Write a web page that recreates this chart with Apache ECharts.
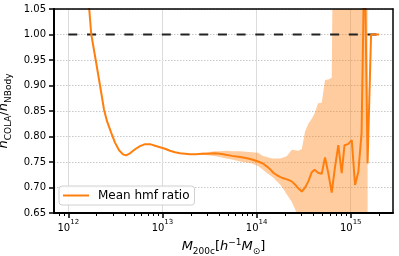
<!DOCTYPE html>
<html><head><meta charset="utf-8">
<script src="https://cdn.jsdelivr.net/npm/echarts@6/dist/echarts.min.js"></script>
<style>html,body{margin:0;padding:0;background:#fff}#c{width:399px;height:256px}</style>
</head><body><div id="c"></div>
<script>
// log10 of halo mass M200c [h^-1 Msun]
const logMass = [12.188,12.220,12.244,12.291,12.337,12.379,12.411,12.454,12.496,12.539,12.581,12.613,12.655,12.709,12.762,12.815,12.868,12.921,12.974,13.027,13.080,13.134,13.187,13.240,13.293,13.357,13.420,13.484,13.548,13.612,13.675,13.739,13.824,13.888,13.952,14.015,14.068,14.111,14.143,14.178,14.217,14.249,14.284,14.323,14.373,14.408,14.440,14.480,14.515,14.550,14.586,14.616,14.653,14.692,14.727,14.762,14.798,14.833,14.868,14.904,14.934,14.971,15.011,15.046,15.081,15.115,15.147,15.179,15.216,15.253,15.300];
const meanRatio = [1.09,1.055,1.000,0.950,0.900,0.853,0.830,0.808,0.788,0.773,0.765,0.763,0.767,0.775,0.781,0.785,0.785,0.782,0.779,0.776,0.772,0.769,0.767,0.766,0.765,0.765,0.766,0.766,0.767,0.766,0.764,0.762,0.760,0.758,0.755,0.751,0.747,0.741,0.736,0.729,0.724,0.721,0.718,0.716,0.712,0.706,0.699,0.692,0.700,0.712,0.730,0.735,0.729,0.727,0.759,0.728,0.690,0.740,0.783,0.728,0.783,0.785,0.793,0.705,0.731,0.806,1.18,0.747,1.000,1.000,1.000];
const bandLogMass = [13.357,13.420,13.484,13.548,13.612,13.675,13.739,13.824,13.888,13.952,14.015,14.068,14.111,14.143,14.178,14.217,14.249,14.284,14.323,14.373,14.408,14.440,14.480,14.515,14.550,14.586,14.616,14.653,14.692,14.727,14.762,14.798,14.833,14.868,14.904,14.934,14.971,15.011,15.046,15.081,15.115,15.147,15.179];
const bandUpper = [0.766,0.768,0.769,0.771,0.771,0.772,0.771,0.771,0.770,0.769,0.768,0.762,0.760,0.758,0.757,0.757,0.757,0.759,0.762,0.774,0.773,0.772,0.775,0.810,0.825,0.835,0.845,0.865,0.866,0.911,0.912,0.915,1.6,1.6,1.6,1.6,1.6,1.6,1.6,1.6,1.6,1.6,1.6];
const bandLower = [0.764,0.764,0.763,0.762,0.760,0.757,0.755,0.751,0.749,0.747,0.742,0.735,0.728,0.724,0.719,0.712,0.706,0.697,0.686,0.672,0.658,0.645,0.630,0.610,0.590,0.570,0.550,0.530,0.510,0.490,0.470,0.450,0.40,0.40,0.40,0.40,0.40,0.40,0.40,0.40,0.40,0.40,0.40];
const refLogMass = [12.0, 15.3];
const refRatio = [1.0, 1.0];
const xMajorTicks = [12, 13, 14, 15];
const xTickExponents = ['12', '13', '14', '15'];
const xMinorMultipliers = [2, 3, 4, 5, 6, 7, 8, 9];
const xDecades = [11, 12, 13, 14, 15];
const xMin = 11.848, xMax = 15.449;
const yMin = 0.65, yMax = 1.05, yStep = 0.05;

const FONT = 'DejaVu Sans';
const minorTicks = [];
xDecades.forEach(d => xMinorMultipliers.forEach(k => {
  const v = d + Math.log10(k);
  if (v > xMin - 0.01 && v < xMax) minorTicks.push(v);
}));
const zip = (a, b) => a.map((v, i) => [v, b[i]]);
const frameX = (pos, w) => ({
  type: 'value', min: xMin, max: xMax, position: pos, z: 10,
  axisLine: {show: true, onZero: false, lineStyle: {color: '#000', width: w}},
  axisTick: {show: false}, axisLabel: {show: false}, splitLine: {show: false}
});
const frameY = (pos, w) => ({
  type: 'value', min: yMin, max: yMax, interval: yStep, position: pos, z: 10,
  axisLine: {show: true, onZero: false, lineStyle: {color: '#000', width: w}},
  axisTick: {show: false}, axisLabel: {show: false}, splitLine: {show: false}
});

const chart = echarts.init(document.getElementById('c'), null, {renderer: 'canvas'});
chart.setOption({
  animation: false,
  textStyle: {fontFamily: FONT},
  grid: {left: 54, right: 6, top: 9, bottom: 43, containLabel: false, outerBoundsMode: 'none'},
  legend: {
    data: [{name: 'Mean hmf ratio', icon: 'rect'}], left: 59, top: 186, orient: 'horizontal', z: 12,
    backgroundColor: 'rgba(255,255,255,0.85)', borderColor: '#d0d0d0', borderWidth: 1, borderRadius: 3,
    padding: [3, 5, 3, 4], itemWidth: 26, itemHeight: 2,
    itemStyle: {color: '#ff7f0e', borderWidth: 0},
    textStyle: {fontFamily: FONT, fontSize: 12, color: '#000', padding: [0, 0, 0, 4], lineHeight: 13}
  },
  xAxis: [
    {
      type: 'value', min: xMin, max: xMax, position: 'bottom', z: 0,
      axisLine: {show: false, onZero: false},
      axisTick: {show: true, customValues: xMajorTicks, length: 5, lineStyle: {color: '#000', width: 1.5}},
      axisLabel: {
        customValues: xMajorTicks, margin: 6,
        formatter: v => '{b|10}{p|' + xTickExponents[xMajorTicks.indexOf(Math.round(v))] + '}',
        rich: {
          b: {fontFamily: FONT, fontSize: 10, color: '#000', lineHeight: 14, verticalAlign: 'bottom'},
          p: {fontFamily: FONT, fontSize: 7, color: '#000', lineHeight: 14, verticalAlign: 'top'}
        }
      },
      splitLine: {show: true, lineStyle: {color: '#dcdcdc', width: 1}},
      name: '{i|M}{s|200c}{t|[}{i|h}{u|−1}{i|M}{s|⊙}{t|]}',
      nameLocation: 'middle', nameGap: 22,
      nameTextStyle: {
        rich: {
          i: {fontFamily: FONT, fontSize: 13, fontStyle: 'italic', color: '#000', lineHeight: 18, verticalAlign: 'middle'},
          t: {fontFamily: FONT, fontSize: 13, color: '#000', lineHeight: 18, verticalAlign: 'middle'},
          s: {fontFamily: FONT, fontSize: 9, color: '#000', lineHeight: 12, verticalAlign: 'bottom'},
          u: {fontFamily: FONT, fontSize: 9, color: '#000', lineHeight: 12, verticalAlign: 'top'}
        }
      }
    },
    {
      type: 'value', min: xMin, max: xMax, position: 'bottom', z: 0,
      axisLine: {show: false, onZero: false},
      axisTick: {show: true, customValues: minorTicks, length: 3, lineStyle: {color: '#000', width: 1}},
      axisLabel: {show: false}, splitLine: {show: false}
    },
    frameX('bottom', 2),
    frameX('top', 1.5)
  ],
  yAxis: [
    {
      type: 'value', min: yMin, max: yMax, interval: yStep, position: 'left', z: 0,
      axisLine: {show: false, onZero: false},
      axisTick: {show: true, length: 5, lineStyle: {color: '#000', width: 1.5}},
      axisLabel: {margin: 8, fontFamily: FONT, fontSize: 10, color: '#000', formatter: v => v.toFixed(2)},
      splitLine: {show: true, lineStyle: {color: '#c8c8c8', width: 1, type: [1.5, 1.5]}},
      name: '{i|n}{s|COLA}{t|/}{i|n}{s|NBody}',
      nameLocation: 'middle', nameRotate: 90, nameGap: 33,
      nameTextStyle: {
        rich: {
          i: {fontFamily: FONT, fontSize: 13, fontStyle: 'italic', color: '#000', lineHeight: 18, verticalAlign: 'middle'},
          t: {fontFamily: FONT, fontSize: 13, color: '#000', lineHeight: 18, verticalAlign: 'middle'},
          s: {fontFamily: FONT, fontSize: 9, color: '#000', lineHeight: 12, verticalAlign: 'bottom'}
        }
      }
    },
    frameY('left', 2),
    frameY('right', 1.5)
  ],
  series: [
    {
      type: 'custom', xAxisIndex: 0, yAxisIndex: 0, silent: true, z: 2,
      data: [[bandLogMass[0], bandUpper[0]]],
      renderItem: (params, api) => {
        const pts = [];
        bandLogMass.forEach((x, i) => pts.push(api.coord([x, bandUpper[i]])));
        for (let i = bandLogMass.length - 1; i >= 0; i--) pts.push(api.coord([bandLogMass[i], bandLower[i]]));
        const cs = params.coordSys;
        return {
          type: 'polygon', shape: {points: pts},
          style: {fill: 'rgba(255,127,14,0.4)', stroke: null},
          clipPath: {type: 'rect', shape: {x: cs.x, y: cs.y, width: cs.width, height: cs.height}}
        };
      }
    },
    {
      type: 'line', xAxisIndex: 0, yAxisIndex: 0, data: zip(refLogMass, refRatio),
      symbol: 'none', lineStyle: {color: '#222', width: 1.8, type: [9, 9.7]}, silent: true, z: 3
    },
    {
      name: 'Mean hmf ratio', type: 'line', xAxisIndex: 0, yAxisIndex: 0, data: zip(logMass, meanRatio),
      symbol: 'none', itemStyle: {color: '#ff7f0e'}, lineStyle: {color: '#ff7f0e', width: 2}, z: 4
    }
  ]
});
</script></body></html>
